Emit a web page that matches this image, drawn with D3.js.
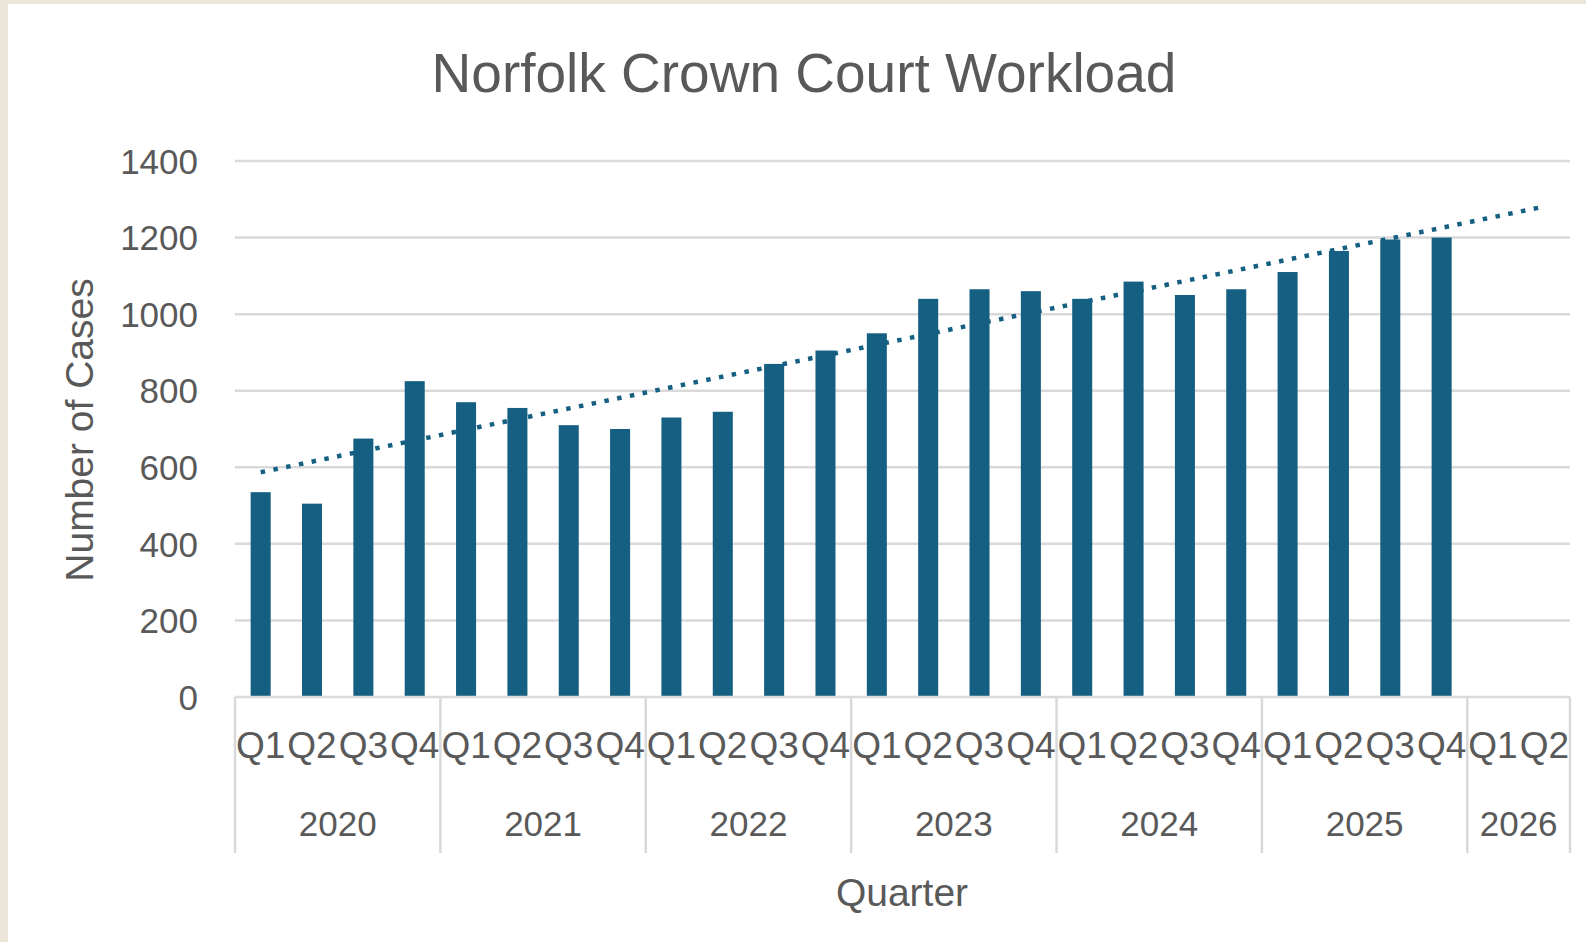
<!DOCTYPE html>
<html>
<head>
<meta charset="utf-8">
<script src="https://cdn.jsdelivr.net/npm/d3@7"></script>
<style>
  html, body { margin: 0; padding: 0; background: #ffffff; }
  svg { display: block; }
</style>
</head>
<body>
<script>
// ---- data ----
const chartTitle = "Norfolk Crown Court Workload";
const yAxisTitle = "Number of Cases";
const xAxisTitle = "Quarter";
const years = ["2020", "2021", "2022", "2023", "2024", "2025", "2026"];
const quartersPerYear = [4, 4, 4, 4, 4, 4, 2];
const quarterNames = ["Q1", "Q2", "Q3", "Q4"];
const cases = [535, 505, 675, 825,
               770, 755, 710, 700,
               730, 745, 870, 905,
               950, 1040, 1065, 1060,
               1040, 1085, 1050, 1065,
               1110, 1165, 1195, 1200,
               null, null];
const yTicks = [0, 200, 400, 600, 800, 1000, 1200, 1400];

// build categories
const categories = [];
years.forEach((yr, i) => {
  for (let q = 0; q < quartersPerYear[i]; q++) {
    categories.push({ key: yr + "-" + quarterNames[q], year: yr, q: quarterNames[q] });
  }
});

const W = 1586, H = 942;
const plotL = 235, plotR = 1570, plotT = 161, plotB = 697;
const textColor = "#595959";
const gridColor = "#D9D9D9";
const barColor = "#156082";
const font = "'Liberation Sans', Arial, sans-serif";

const svg = d3.select("body").append("svg").attr("width", W).attr("height", H);

// background with beige border (left & top)
svg.append("rect").attr("x", 0).attr("y", 0).attr("width", W).attr("height", H).attr("fill", "#EBE5DA");
svg.append("rect").attr("x", 8).attr("y", 4).attr("width", W - 8).attr("height", H - 4).attr("fill", "#ffffff");

const x = d3.scaleBand()
  .domain(categories.map(d => d.key))
  .range([plotL, plotR])
  .paddingInner(0.61)
  .paddingOuter(0.305);
const step = x.step();
const slotStart = k => plotL + k * step;

const y = d3.scaleLinear().domain([0, 1400]).range([plotB, plotT]);

// gridlines
svg.append("g").selectAll("line").data(yTicks.filter(t => t > 0)).join("line")
  .attr("x1", plotL).attr("x2", plotR)
  .attr("y1", d => y(d)).attr("y2", d => y(d))
  .attr("stroke", gridColor).attr("stroke-width", 2.5);

// y axis labels via d3 axis
const yAxis = d3.axisLeft(y).tickValues(yTicks).tickFormat(d3.format("d")).tickSize(0).tickPadding(0);
const yg = svg.append("g").attr("transform", `translate(198,0)`).call(yAxis);
yg.select(".domain").remove();
yg.selectAll("text")
  .attr("font-family", font).attr("font-size", 35).attr("fill", textColor)
  .attr("dy", "0.35em").attr("x", 0);

// bars
const barData = categories.map((c, i) => ({ key: c.key, v: cases[i] })).filter(d => d.v != null);
svg.append("g").selectAll("rect").data(barData).join("rect")
  .attr("x", d => x(d.key))
  .attr("width", x.bandwidth())
  .attr("y", d => y(d.v))
  .attr("height", d => y(0) - y(d.v))
  .attr("fill", barColor);

// linear trendline (least squares over existing values), extended to all categories
const pts = cases.map((v, i) => ({ i, v })).filter(d => d.v != null);
const mx = d3.mean(pts, d => d.i), my = d3.mean(pts, d => d.v);
const slope = d3.sum(pts, d => (d.i - mx) * (d.v - my)) / d3.sum(pts, d => (d.i - mx) ** 2);
const icpt = my - slope * mx;
const trend = categories.map((c, i) => ({ key: c.key, v: icpt + slope * i }));
const line = d3.line().x(d => x(d.key) + x.bandwidth() / 2).y(d => y(d.v));
svg.append("path").datum([trend[0], trend[trend.length - 1]])
  .attr("d", line)
  .attr("fill", "none").attr("stroke", barColor)
  .attr("stroke-width", 4.5).attr("stroke-dasharray", "4.5 8.5");

// category axis line
svg.append("line").attr("x1", plotL).attr("x2", plotR).attr("y1", plotB).attr("y2", plotB)
  .attr("stroke", gridColor).attr("stroke-width", 2.5);

// year dividers
const bounds = [0];
quartersPerYear.forEach((q, i) => bounds.push(bounds[i] + q));
svg.append("g").selectAll("line").data(bounds).join("line")
  .attr("x1", d => slotStart(d)).attr("x2", d => slotStart(d))
  .attr("y1", plotB).attr("y2", 853)
  .attr("stroke", gridColor).attr("stroke-width", 2.5);

// quarter labels
svg.append("g").selectAll("text").data(categories).join("text")
  .attr("x", d => x(d.key) + x.bandwidth() / 2)
  .attr("y", 745).attr("dy", "0.35em")
  .attr("text-anchor", "middle")
  .attr("font-family", font).attr("font-size", 37).attr("fill", textColor)
  .text(d => d.q);

// year labels
svg.append("g").selectAll("text").data(years).join("text")
  .attr("x", (d, i) => (slotStart(bounds[i]) + slotStart(bounds[i + 1])) / 2)
  .attr("y", 824).attr("dy", "0.35em")
  .attr("text-anchor", "middle")
  .attr("font-family", font).attr("font-size", 35).attr("fill", textColor)
  .text(d => d);

// titles
svg.append("text").attr("x", 804).attr("y", 73).attr("dy", "0.35em")
  .attr("text-anchor", "middle")
  .attr("font-family", font).attr("font-size", 55).attr("fill", textColor)
  .text(chartTitle);

svg.append("text")
  .attr("transform", "translate(79,430) rotate(-90)")
  .attr("dy", "0.35em")
  .attr("text-anchor", "middle")
  .attr("font-family", font).attr("font-size", 39).attr("fill", textColor)
  .text(yAxisTitle);

svg.append("text").attr("x", 902).attr("y", 892).attr("dy", "0.35em")
  .attr("text-anchor", "middle")
  .attr("font-family", font).attr("font-size", 39).attr("fill", textColor)
  .text(xAxisTitle);
</script>
</body>
</html>
